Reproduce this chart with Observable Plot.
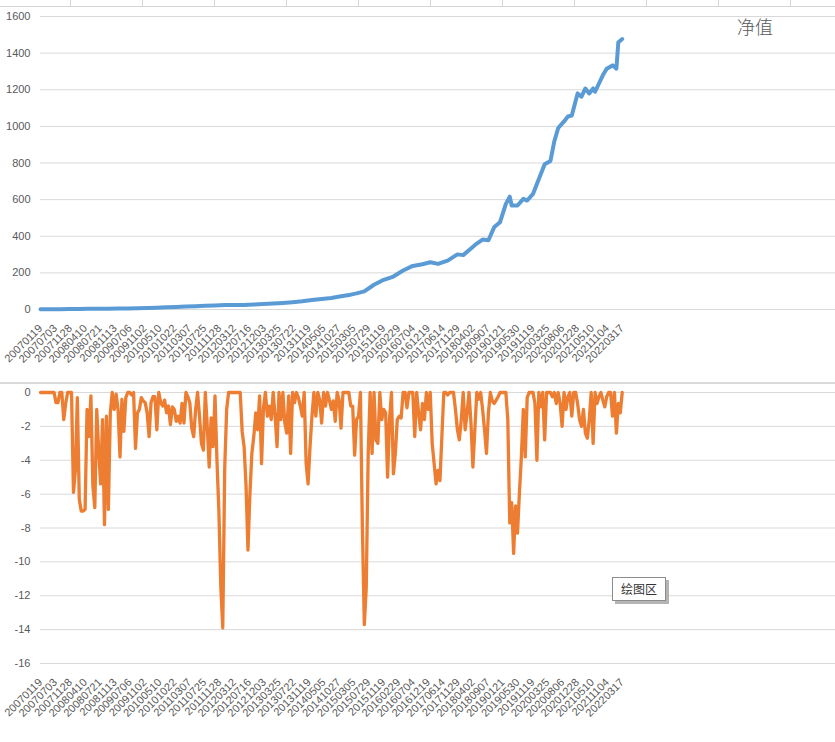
<!DOCTYPE html>
<html><head><meta charset="utf-8">
<script src="https://cdn.jsdelivr.net/npm/d3@7"></script>
<script src="https://cdn.jsdelivr.net/npm/@observablehq/plot@0.6"></script>
<style>
html,body{margin:0;padding:0;background:#fff;}
#wrap{position:relative;width:835px;height:742px;overflow:hidden;background:#fff;font-family:"Liberation Sans",Arial,sans-serif;}
.abs{position:absolute;}
#legend{left:737px;top:17px;font-family:"Noto Sans CJK SC",sans-serif;font-size:18px;line-height:18px;font-weight:300;color:#595959;}
#tip{left:612px;top:577px;width:52px;height:22px;border:1px solid #8c8c8c;background:#fff;box-shadow:3px 3px 0 #b4b4b4;font-family:"Noto Sans CJK SC",sans-serif;font-size:12px;line-height:22px;text-align:center;color:#333;}
.vline{position:absolute;top:0;width:1px;height:6px;background:#d4d4d4;}
</style></head><body>
<div id="wrap">
  <div id="top" class="abs" style="left:0;top:0"></div>
  <div id="bot" class="abs" style="left:0;top:384px"></div>
  <div id="sep" class="abs" style="left:0;top:382px;width:835px;height:2px;background:#d9d9d9"></div>
  <div id="strip" class="abs" style="left:0;top:0;width:835px;height:7px;border-bottom:1px solid #d4d4d4;box-sizing:border-box"></div>
  <div id="legend" class="abs">净值</div>
  <div id="tip" class="abs">绘图区</div>
</div>
<script>
// ---- data ----
const tickLabels = ["20070119","20070703","20071128","20080410","20080721","20081113","20090706","20091102","20100510","20101022","20110307","20110725","20111128","20120312","20120716","20121203","20130325","20130722","20131119","20140505","20141027","20150305","20150729","20151119","20160229","20160704","20161219","20170614","20171129","20180402","20180907","20190121","20190530","20191119","20200325","20200806","20201228","20210510","20211104","20220317"];

// net value (净值) read at category positions
const netIdx = [0,5,10,15,20,25,30,35,40,45,50,55,60,65,70,75,80,85,90,95,100,105,110,115,120,125,130,135,140,145,150,155,160,163,167,172,177,182,187,192,197,201,205,210,215,218,222,225,228,231,234,237,240,242,243,246,249,251,254,256,259,260,263,265,267,270,272,274,277,279,281,283,285,286,290,292,295,296,297,298,299,300];
const netVal = [1,1.5,2,2.5,3,3.5,4,4.5,5,6,7,8,10,12,14,16,18,20,22,24,24,25,27,30,33,36,40,45,52,57,63,72,81,88,99,135,162,180,213,238,247,258,249,267,301,297,333,360,382,378,450,477,577,616,568,568,604,595,631,685,766,793,811,919,991,1027,1054,1059,1180,1162,1207,1180,1207,1189,1279,1315,1333,1325,1315,1459,1468,1477];

// drawdown (%) per category
const drawdown = [
0,0,0,0,0,0,0,0,-0.6,-0.6,
0,0,-1.6,-0.65,0,0,0,-5.9,-4.6,-0.3,
-6.3,-7.0,-7.0,-6.9,-1.0,-2.6,-0.2,-5.5,-6.8,-1.0,
-3.4,-5.4,-1.6,-7.8,-1.4,-6.9,-1.2,0,-1.0,-0.1,
-1.0,-3.8,-0.4,-2.3,-0.3,0,0,-0.15,0,-3.3,
-1.2,-1.0,-0.3,-0.5,-0.6,-1.2,-2.6,-0.6,-0.25,-0.25,
-2.2,0,-0.6,-0.8,-0.45,-1.2,-0.8,-1.9,-0.85,-1.0,
-1.7,-1.4,-1.8,-0.65,-1.8,0,-0.25,-0.6,-2.1,-2.6,
-1.0,0,-1.4,-3.0,-3.4,0,-2.0,-4.4,-1.5,-3.2,
-0.2,-4.0,-7.0,-11.5,-13.9,-4.5,-1.0,0,0,0,
0,0,0,0,-2.3,-3.2,-5.5,-9.3,-6.0,-3.6,
-2.6,-1.2,-2.2,-0.2,-4.2,-0.9,0,-1.4,-0.8,-1.6,
0,-1.4,-3.2,0,-1.6,0,-1.8,-2.4,-0.2,-3.6,
0,-0.6,0,-0.3,-0.8,-1.4,0,-4.2,-5.4,-3.2,
-1.4,0,-1.4,0,-0.45,-1.8,0,-0.8,0,-0.45,
-1.0,-0.5,-1.7,0,-0.45,-2.1,0,0,0,0,
-0.8,-0.8,-3.7,-1.6,-1.4,0,-8.0,-13.7,-11.5,-3.6,
0,-3.6,0,-2.8,-3.0,0,-1.6,-1.0,-1.2,-5.0,
-1.6,0,-4.8,-3.6,-1.6,-1.4,-1.5,0,0,-0.9,
0,0,0,-2.6,0,-1.2,-2.2,-0.65,-1.6,0,
-1.0,0,-3.0,-4.2,-5.4,-4.6,-5.2,-2.6,0,0,
-0.15,0,0,0,-1.0,-2.2,-2.8,-1.6,0,-2.2,
-1.2,0,-1.8,-4.4,-2.2,0,-0.4,0,-1.0,-2.2,
-3.6,-1.2,0,-0.5,-0.65,-0.45,-0.25,0,0,0,
0,-1.6,-7.7,-6.5,-9.5,-6.7,-8.3,-5.9,-3.8,-1.0,
-3.8,-0.3,0,0,0,-0.65,-4.0,0,-0.85,0,
-2.8,0,0,0,-0.25,0,-0.65,0,-0.65,-2.0,
0,-1.0,-0.25,0,-1.4,0,0,-0.65,-1.6,-2.0,
-1.0,-2.4,-2.7,-1.6,0,-3.0,0,-0.65,-0.25,0,
-0.45,-0.85,-0.25,0,0,-1.4,0,-2.4,-0.65,-1.2,
0
];

const topTicks = [0,200,400,600,800,1000,1200,1400,1600];
const botTicks = [0,-2,-4,-6,-8,-10,-12,-14,-16];

// ---- layout helpers ----
const lastIdx = drawdown.length - 1;
const tickPos = tickLabels.map((d, i) => i * lastIdx / (tickLabels.length - 1));
const xDomain = [0, 410];
const textColor = "#595959";
const gridColor = "#d9d9d9";
const font = "Liberation Sans, Arial, sans-serif";

function xLabelMark() {
  return Plot.text(tickLabels, {
    x: (d, i) => tickPos[i],
    frameAnchor: "bottom",
    rotate: -45,
    textAnchor: "end",
    lineAnchor: "middle",
    dx: 0,
    dy: 17,
    fontSize: 11,
    fill: textColor
  });
}

const topChart = Plot.plot({
  width: 835, height: 382,
  marginLeft: 40, marginRight: 0, marginTop: 16, marginBottom: 73,
  x: {domain: xDomain, axis: null},
  y: {domain: [0, 1600], axis: null},
  style: {fontFamily: font, background: "transparent", overflow: "visible"},
  marks: [
    Plot.ruleY(topTicks, {stroke: gridColor, strokeWidth: 1}),
    Plot.text(topTicks, {y: d => d, frameAnchor: "left", textAnchor: "end", dx: -10, text: d => String(d), fontSize: 11, fill: textColor}),
    xLabelMark(),
    Plot.line(netIdx, {x: d => d, y: (d, i) => netVal[i], stroke: "#5B9BD5", strokeWidth: 4, strokeLinejoin: "round", strokeLinecap: "round"})
  ]
});
document.getElementById("top").appendChild(topChart);

const botChart = Plot.plot({
  width: 835, height: 358,
  marginLeft: 40, marginRight: 0, marginTop: 8, marginBottom: 79,
  x: {domain: xDomain, axis: null},
  y: {domain: [-16, 0], axis: null},
  style: {fontFamily: font, background: "transparent", overflow: "visible"},
  marks: [
    Plot.ruleY(botTicks, {stroke: gridColor, strokeWidth: 1}),
    Plot.text(botTicks, {y: d => d, frameAnchor: "left", textAnchor: "end", dx: -10, text: d => String(d), fontSize: 11, fill: textColor}),
    xLabelMark(),
    Plot.line(drawdown, {x: (d, i) => i, y: d => d, stroke: "#ED7D31", strokeWidth: 3.3, strokeLinejoin: "round", strokeLinecap: "round"})
  ]
});
document.getElementById("bot").appendChild(botChart);

// spreadsheet cell borders visible above the chart
const strip = document.getElementById("strip");
for (let x = 70; x < 835; x += 72) {
  const v = document.createElement("div");
  v.className = "vline";
  v.style.left = x + "px";
  strip.appendChild(v);
}
</script>
</body></html>
